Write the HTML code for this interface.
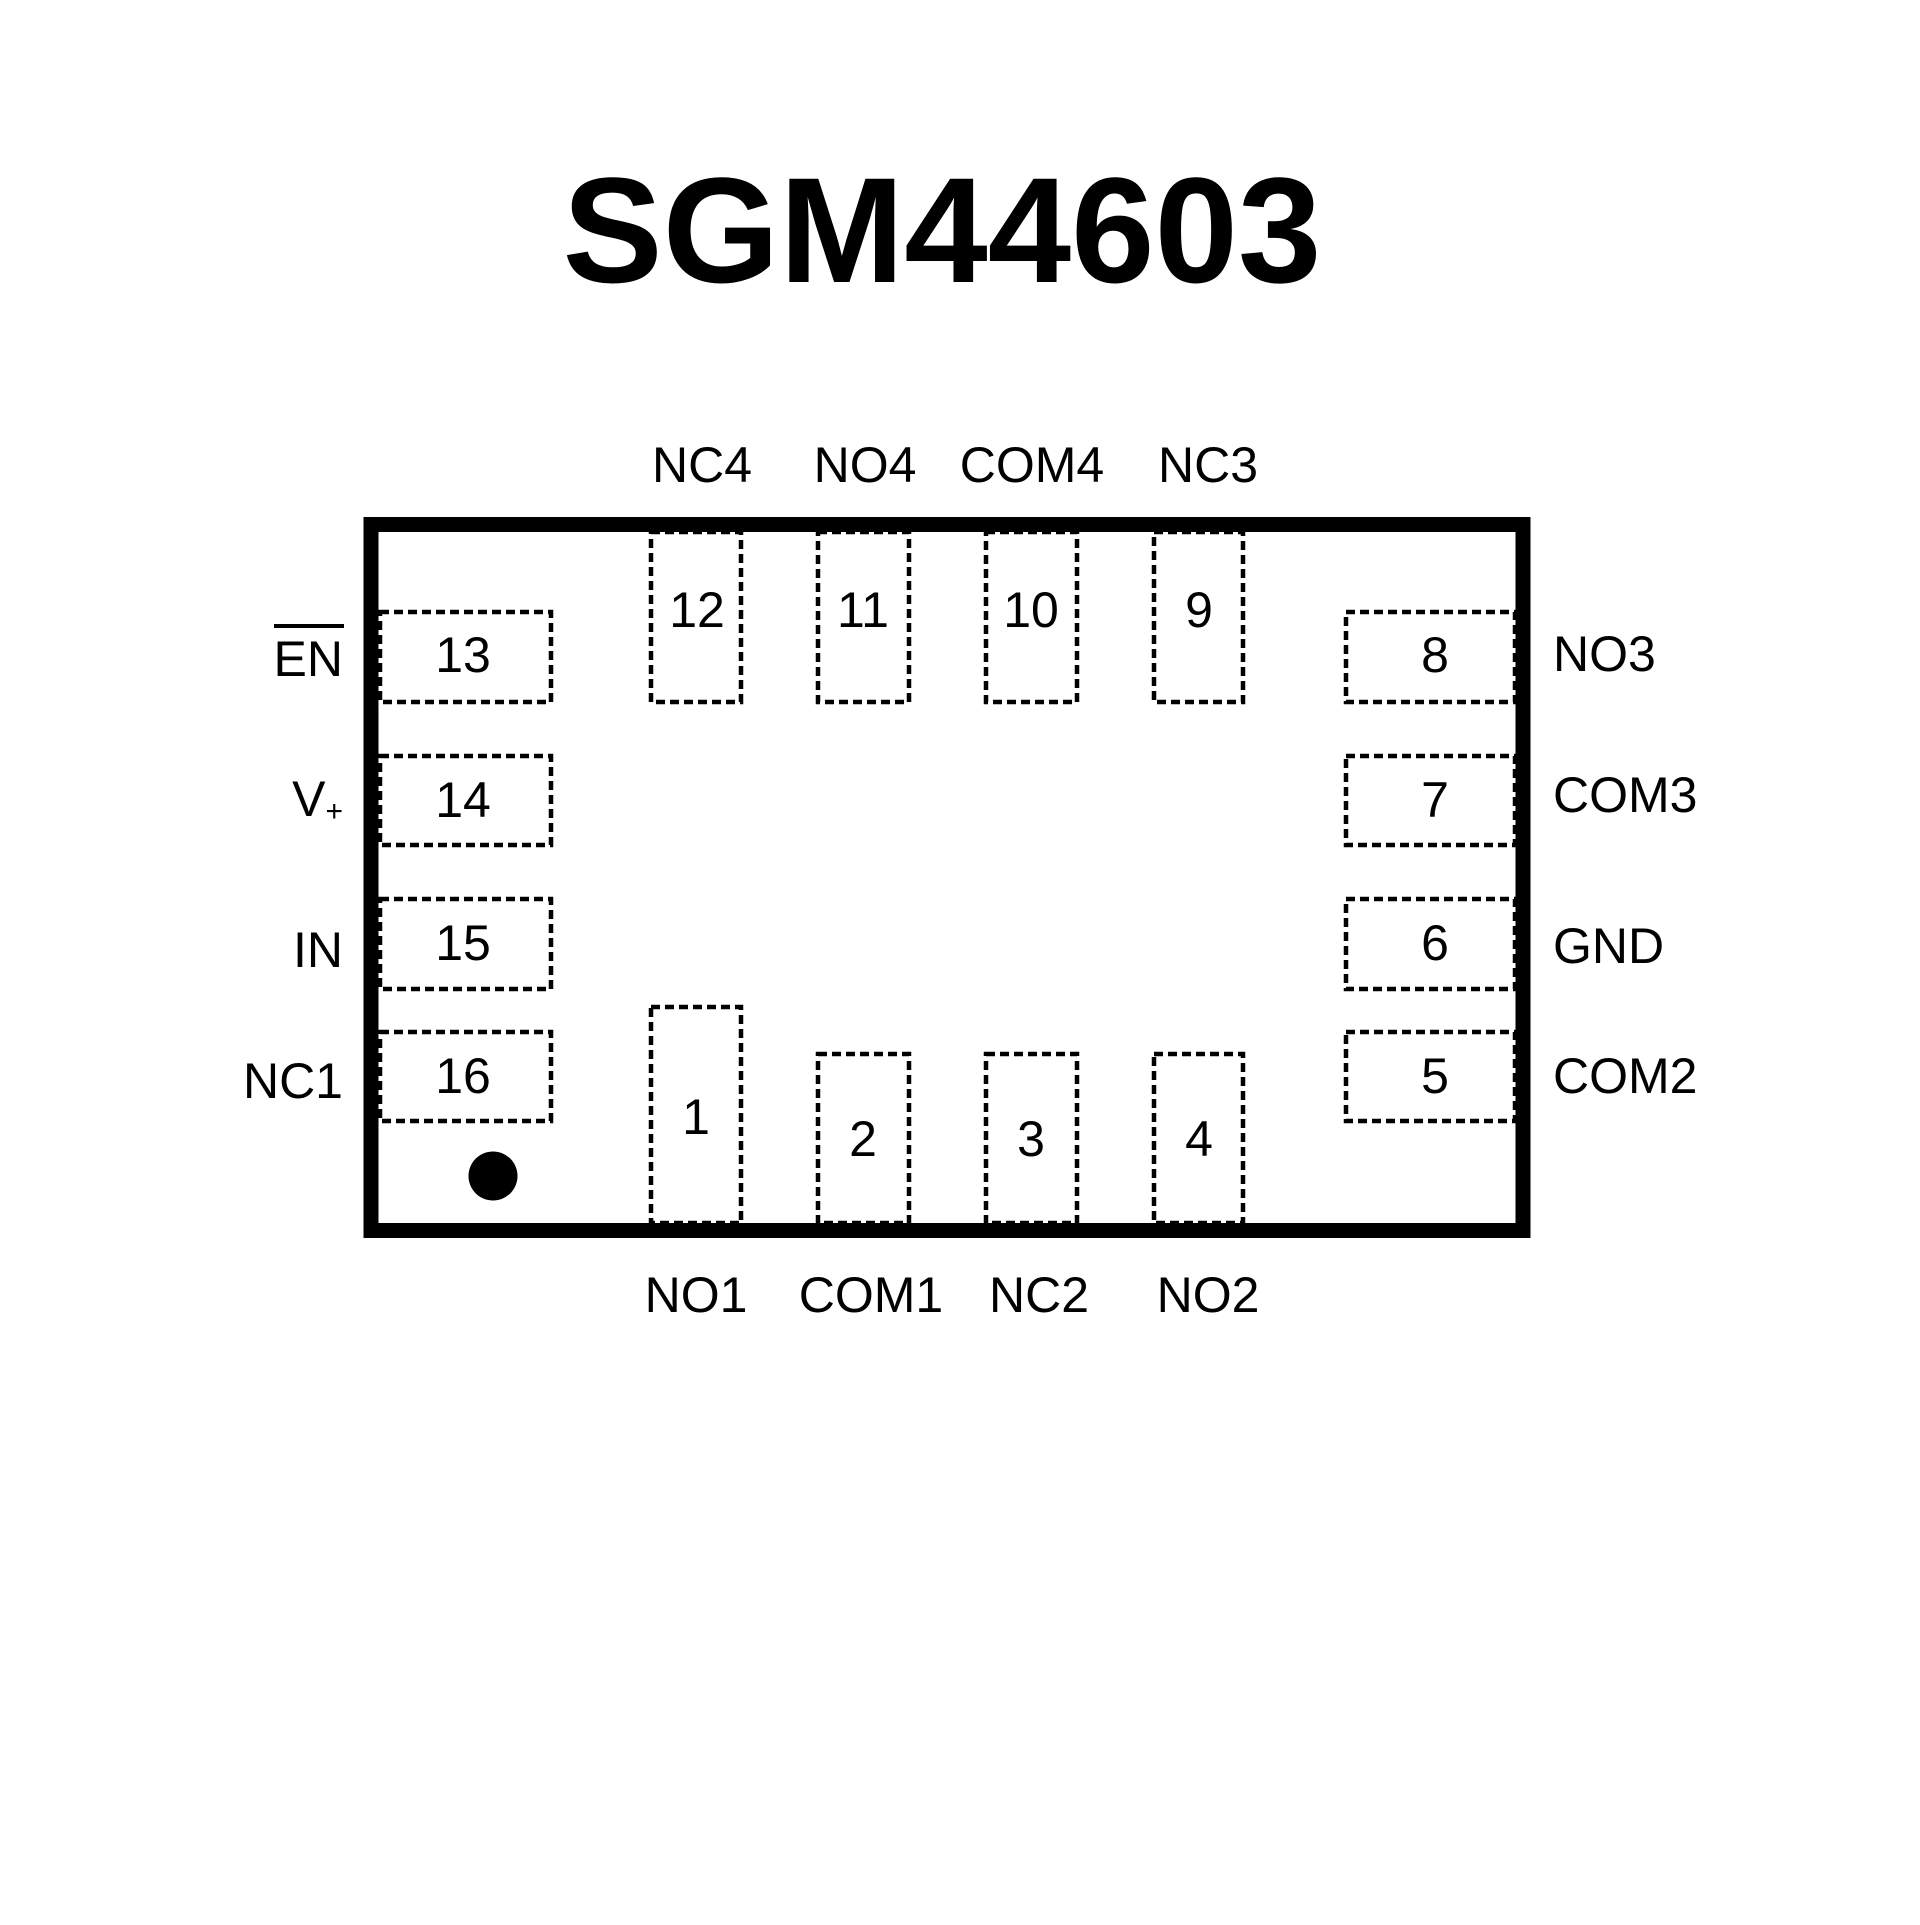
<!DOCTYPE html>
<html><head><style>html,body{margin:0;padding:0;background:#fff}</style></head><body>
<svg width="1920" height="1920" viewBox="0 0 1920 1920" xmlns="http://www.w3.org/2000/svg">
<rect width="1920" height="1920" fill="#fff"/>
<g transform="translate(3,3)">
<text x="939" y="279" text-anchor="middle" font-family="Liberation Sans, sans-serif" font-weight="bold" font-size="150">SGM44603</text>
<rect x="368" y="521.5" width="1152" height="706" fill="none" stroke="#000" stroke-width="15"/>
<g fill="none" stroke="#000" stroke-width="4.5" stroke-dasharray="9 5">
<rect x="377" y="609" width="171" height="90"/>
<rect x="377" y="753" width="171" height="89"/>
<rect x="377" y="896" width="171" height="90"/>
<rect x="377" y="1029" width="171" height="89"/>
<rect x="1343" y="609" width="169" height="90"/>
<rect x="1343" y="753" width="169" height="89"/>
<rect x="1343" y="896" width="169" height="90"/>
<rect x="1343" y="1029" width="169" height="89"/>
<rect x="648" y="529" width="90" height="170"/>
<rect x="815" y="529" width="91" height="170"/>
<rect x="983" y="529" width="91" height="170"/>
<rect x="1151" y="529" width="89" height="170"/>
<rect x="648" y="1004" width="90" height="216"/>
<rect x="815" y="1051" width="91" height="169"/>
<rect x="983" y="1051" width="91" height="169"/>
<rect x="1151" y="1051" width="89" height="169"/>
</g>
<circle cx="490" cy="1173" r="24.5" fill="#000"/>
<g font-family="Liberation Sans, sans-serif" font-size="50" text-anchor="middle" dominant-baseline="central">
<text x="460" y="652">13</text><text x="460" y="797">14</text><text x="460" y="940">15</text><text x="460" y="1073">16</text>
<text x="1432" y="652">8</text><text x="1432" y="797">7</text><text x="1432" y="940">6</text><text x="1432" y="1073">5</text>
<text x="694" y="607">12</text><text x="860" y="607">11</text><text x="1028" y="607">10</text><text x="1196" y="607">9</text>
<text x="693" y="1114">1</text><text x="860" y="1136">2</text><text x="1028" y="1136">3</text><text x="1196" y="1136">4</text>
<text x="699" y="462">NC4</text><text x="862" y="462">NO4</text><text x="1029" y="462">COM4</text><text x="1205" y="462">NC3</text>
<text x="693" y="1292">NO1</text><text x="868" y="1292">COM1</text><text x="1036" y="1292">NC2</text><text x="1205" y="1292">NO2</text>
</g>
<g font-family="Liberation Sans, sans-serif" font-size="50" text-anchor="end" dominant-baseline="central">
<text x="340" y="656">EN</text>
<text x="340" y="796">V<tspan font-size="30" dy="12">+</tspan></text>
<text x="340" y="947">IN</text>
<text x="340" y="1078">NC1</text>
</g>
<line x1="271" y1="623" x2="341" y2="623" stroke="#000" stroke-width="4"/>
<g font-family="Liberation Sans, sans-serif" font-size="50" text-anchor="start" dominant-baseline="central">
<text x="1550" y="651">NO3</text>
<text x="1550" y="792">COM3</text>
<text x="1550" y="943">GND</text>
<text x="1550" y="1073">COM2</text>
</g>
</g>
</svg>
</body></html>
